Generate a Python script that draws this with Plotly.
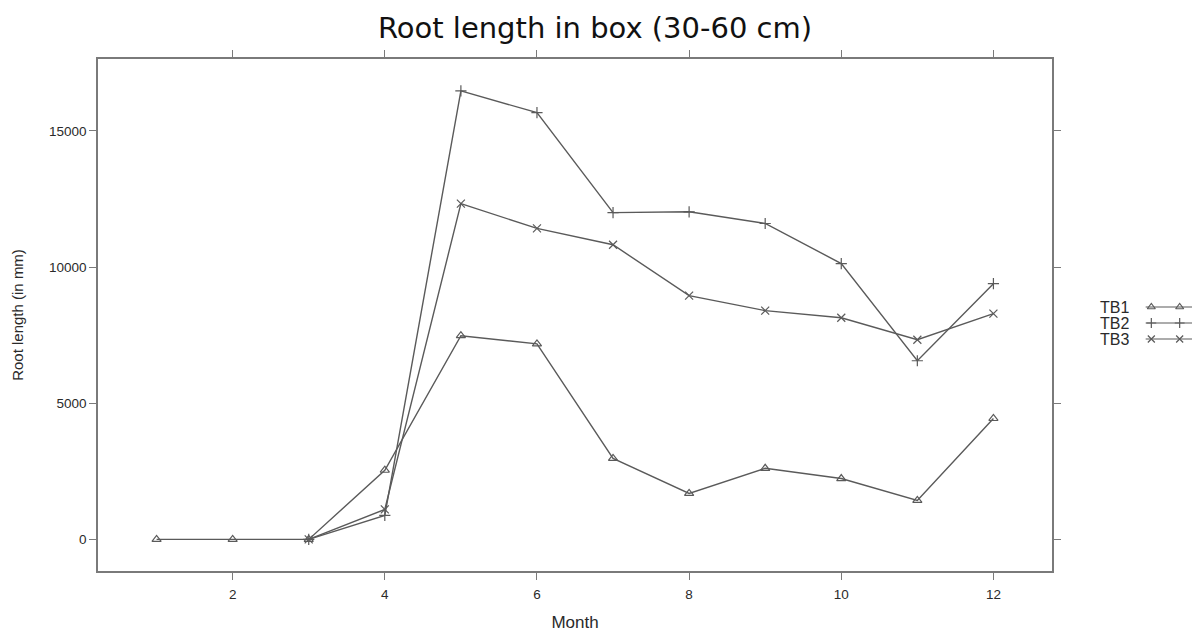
import plotly.graph_objects as go

months_tb1 = [1, 2, 3, 4, 5, 6, 7, 8, 9, 10, 11, 12]
tb1 = [0, 0, 0, 2540, 7480, 7180, 2975, 1690, 2610, 2235, 1430, 4440]
months_tb2 = [3, 4, 5, 6, 7, 8, 9, 10, 11, 12]
tb2 = [0, 880, 16470, 15670, 12000, 12030, 11600, 10130, 6560, 9390]
months_tb3 = [3, 4, 5, 6, 7, 8, 9, 10, 11, 12]
tb3 = [0, 1100, 12330, 11420, 10820, 8950, 8400, 8140, 7330, 8290]

series_names = ["TB1", "TB2", "TB3"]
symbols = ["triangle-up-open", "cross-thin-open", "x-thin-open"]

LINE = "#5a5a5a"
AX = "#7a7a7a"
TXT = "#2a2a2a"
FONT = "Liberation Sans, Arial, sans-serif"

OFF = 8  # page body margin
L = 98 - OFF
T = 59 - OFF
B = 632 - 571 + OFF
W_PLOT = 1200.0 - L

fig = go.Figure()
data = [(months_tb1, tb1), (months_tb2, tb2), (months_tb3, tb3)]
for (mx, my), name, sym in zip(data, series_names, symbols):
    fig.add_trace(go.Scatter(
        x=mx, y=my, mode="lines+markers", name=name,
        line=dict(color=LINE, width=1.4),
        marker=dict(symbol=sym, size=8, color=LINE, line=dict(color=LINE, width=1.2)),
        showlegend=False, xaxis="x", yaxis="y", cliponaxis=False,
    ))

# custom lattice-style key
for i, (name, sym) in enumerate(zip(series_names, symbols)):
    fig.add_trace(go.Scatter(
        x=[-0.2, 3], y=[i, i], mode="lines", line=dict(color=LINE, width=1.2),
        showlegend=False, xaxis="x2", yaxis="y2", hoverinfo="skip"))
    fig.add_trace(go.Scatter(
        x=[0, 1, 2], y=[i, i, i], mode="markers",
        marker=dict(symbol=sym, size=7, color=LINE, line=dict(color=LINE, width=1.2)),
        showlegend=False, xaxis="x2", yaxis="y2", hoverinfo="skip"))
    fig.add_annotation(x=(1098 - 98) / W_PLOT, y=i, xref="paper", yref="y2", text=name,
                       showarrow=False, xanchor="left", yanchor="middle",
                       font=dict(family=FONT, size=16, color=TXT))

fig.update_layout(
    width=1200, height=632,
    margin=dict(l=L, r=0, t=T, b=B),
    paper_bgcolor="white", plot_bgcolor="white",
    title=dict(text="Root length in box (30-60 cm)", x=(595 - OFF) / 1200, xref="container",
               xanchor="center", y=1 - (28 - OFF) / 632, yanchor="middle",
               font=dict(family="DejaVu Sans, sans-serif", size=29, color="#111111")),
    xaxis=dict(domain=[0, 954 / W_PLOT], range=[0.23, 12.77], tick0=2, dtick=2,
               showgrid=False, zeroline=False, showline=True, linecolor=AX, linewidth=1.5,
               mirror="ticks", ticks="outside", ticklen=7, tickcolor=AX, tickwidth=1,
               ticklabelstandoff=3,
               tickfont=dict(family=FONT, size=13.5, color=TXT),
               title=dict(text="Month", font=dict(family=FONT, size=17, color=TXT), standoff=15)),
    yaxis=dict(range=[-1160, 17640], tick0=0, dtick=5000, tickformat="d",
               showgrid=False, zeroline=False, showline=True, linecolor=AX, linewidth=1.5,
               mirror="ticks", ticks="outside", ticklen=7, tickcolor=AX, tickwidth=1,
               tickfont=dict(family=FONT, size=13.5, color=TXT),
               title=dict(text="Root length (in mm)", font=dict(family=FONT, size=15, color=TXT),
                          standoff=22)),
    xaxis2=dict(domain=[(1140 - 98) / W_PLOT, 1], range=[-0.4, 2.0], visible=False, anchor="y2"),
    yaxis2=dict(domain=[0, 1], range=[16.5, -15.5], visible=False, anchor="x2"),
)

fig.write_html("out.html")
